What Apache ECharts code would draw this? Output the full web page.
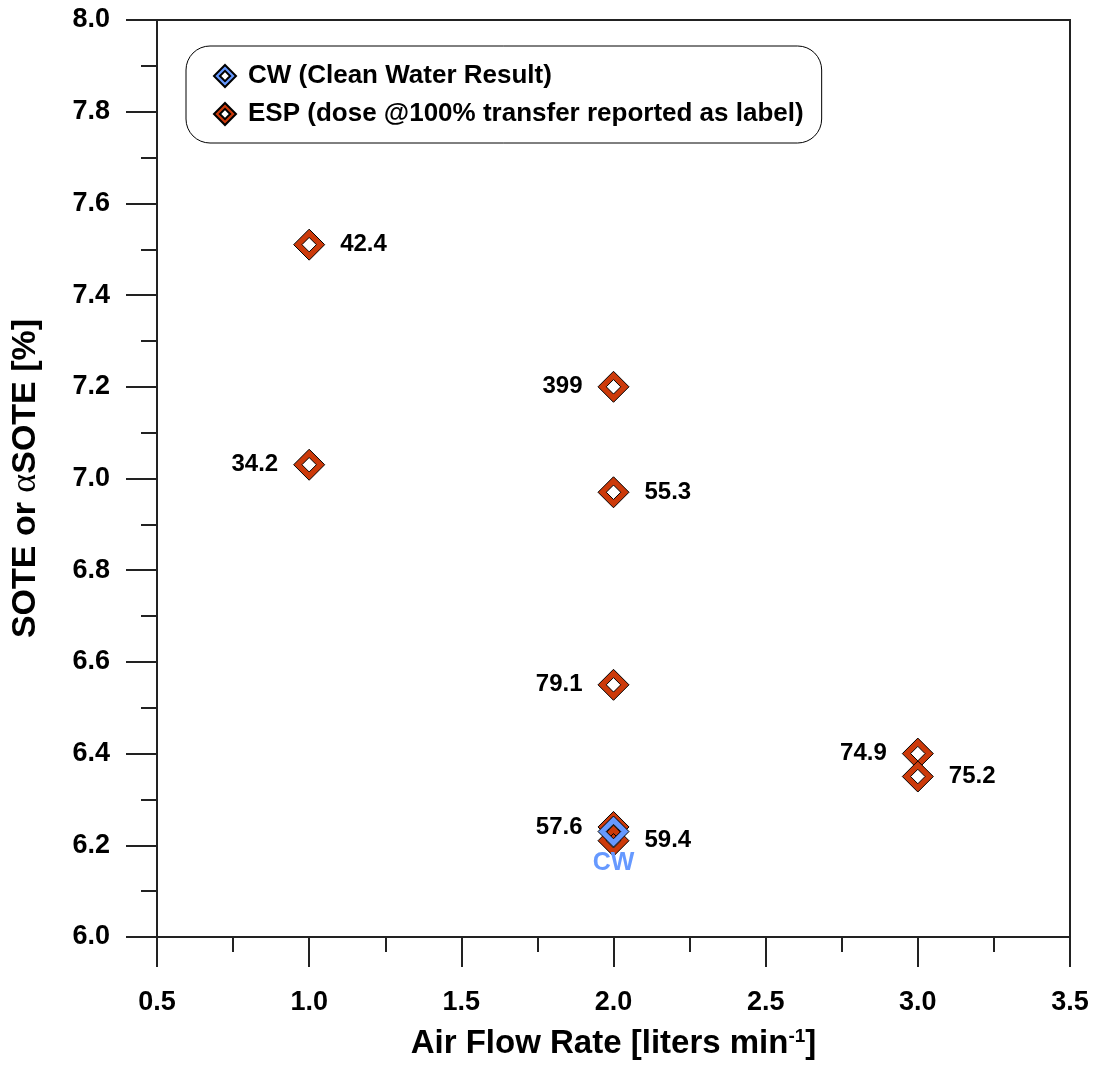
<!DOCTYPE html>
<html>
<head>
  <meta charset="UTF-8">
  <title>SOTE vs Air Flow Rate</title>
  <script src="https://cdn.jsdelivr.net/npm/echarts@6/dist/echarts.min.js"></script>
  <style>
    html, body { margin: 0; padding: 0; background: #fff; }
    #main { width: 1097px; height: 1067px; }
  </style>
</head>
<body>
<div id="main"></div>
<script>
  // clean water result
  const cwFlow = [2.0];
  const cwSote = [6.23];

  // ESP runs, dose @100% transfer shown as label
  const espFlow = [1.0, 1.0, 2.0, 2.0, 2.0, 2.0, 2.0, 3.0, 3.0];
  const espSote = [7.51, 7.03, 7.20, 6.97, 6.55, 6.24, 6.21, 6.40, 6.35];
  const espDose = ['42.4', '34.2', '399', '55.3', '79.1', '57.6', '59.4', '74.9', '75.2'];
  const labelSide = ['right', 'left', 'left', 'right', 'left', 'left', 'right', 'left', 'right'];

  const xTicks = [0.5, 1.0, 1.5, 2.0, 2.5, 3.0, 3.5];
  const yTicks = [6.0, 6.2, 6.4, 6.6, 6.8, 7.0, 7.2, 7.4, 7.6, 7.8, 8.0];

  const FONT = '"Liberation Sans", Arial, sans-serif';
  // hollow diamond (outer cw, inner ccw -> hole)
  const ring = 'path://M0,-15L15,0L0,15L-15,0Z M0,-7L-7,0L0,7L7,0Z';

  const espData = espFlow.map(function (x, i) {
    return {
      value: [x, espSote[i]],
      name: espDose[i],
      label: { position: labelSide[i] }
    };
  });
  const cwData = cwFlow.map(function (x, i) {
    return { value: [x, cwSote[i]] };
  });

  const chart = echarts.init(document.getElementById('main'));

  const option = {
    backgroundColor: '#fff',
    animation: false,
    grid: {
      left: 154, right: 27, top: 20, bottom: 130,
      show: true, borderColor: '#222', borderWidth: 2
    },
    legend: {
      orient: 'vertical',
      left: 186, top: 46,
      data: ['CW (Clean Water Result)', 'ESP (dose @100% transfer reported as label)'],
      backgroundColor: '#fff',
      borderColor: '#000', borderWidth: 1, borderRadius: 24,
      padding: [17, 18, 16, 27],
      itemWidth: 22, itemHeight: 22, itemGap: 12,
      textStyle: { fontFamily: FONT, fontWeight: 'bold', fontSize: 26, color: '#000', padding: [0, 0, 0, 7] }
    },
    xAxis: {
      type: 'value',
      min: xTicks[0], max: xTicks[xTicks.length - 1], interval: 0.5,
      name: 'Air Flow Rate [liters min{sup|-1}]',
      nameLocation: 'middle', nameGap: 90,
      nameTextStyle: {
        fontFamily: FONT, fontWeight: 'bold', fontSize: 33, color: '#000',
        rich: { sup: { fontFamily: FONT, fontWeight: 'bold', fontSize: 19, verticalAlign: 'top', color: '#000' } }
      },
      axisLine: { show: true, lineStyle: { color: '#222', width: 2 } },
      axisTick: { show: true, length: 30, lineStyle: { color: '#222', width: 2 } },
      minorTick: { show: true, splitNumber: 2, length: 15, lineStyle: { color: '#222', width: 2 } },
      splitLine: { show: false },
      axisLabel: {
        margin: 52, fontFamily: FONT, fontWeight: 'bold', fontSize: 27, color: '#000',
        formatter: function (v) { return v.toFixed(1); }
      }
    },
    yAxis: {
      type: 'value',
      min: yTicks[0], max: yTicks[yTicks.length - 1], interval: 0.2,
      name: 'SOTE or {a|α}SOTE [%]',
      nameLocation: 'middle', nameGap: 113, nameRotate: 90,
      nameTextStyle: {
        fontFamily: FONT, fontWeight: 'bold', fontSize: 34, color: '#000',
        rich: { a: { fontFamily: '"Liberation Serif", serif', fontWeight: 'normal', fontSize: 36, color: '#000' } }
      },
      axisLine: { show: true, lineStyle: { color: '#222', width: 2 } },
      axisTick: { show: true, length: 31, lineStyle: { color: '#222', width: 2 } },
      minorTick: { show: true, splitNumber: 2, length: 16, lineStyle: { color: '#222', width: 2 } },
      splitLine: { show: false },
      axisLabel: {
        margin: 47, fontFamily: FONT, fontWeight: 'bold', fontSize: 27, color: '#000',
        formatter: function (v) { return v.toFixed(1); }
      }
    },
    series: [
      {
        name: 'ESP (dose @100% transfer reported as label)',
        type: 'scatter',
        symbol: ring,
        symbolSize: 31,
        itemStyle: { color: '#CC3A0A', borderColor: '#000', borderWidth: 1, opacity: 1 },
        label: {
          show: true, distance: 15,
          formatter: function (p) { return p.name; },
          fontFamily: FONT, fontWeight: 'bold', fontSize: 24, color: '#000'
        },
        data: espData,
        z: 2
      },
      {
        name: 'CW (Clean Water Result)',
        type: 'scatter',
        symbol: ring,
        symbolSize: 31,
        itemStyle: { color: '#6699FF', borderColor: '#000', borderWidth: 1, opacity: 1 },
        label: {
          show: true, position: 'bottom', distance: 3,
          formatter: 'CW',
          fontFamily: FONT, fontWeight: 'bold', fontSize: 25, color: '#6699FF'
        },
        data: cwData,
        z: 3
      }
    ]
  };

  chart.setOption(option);
</script>
</body>
</html>
